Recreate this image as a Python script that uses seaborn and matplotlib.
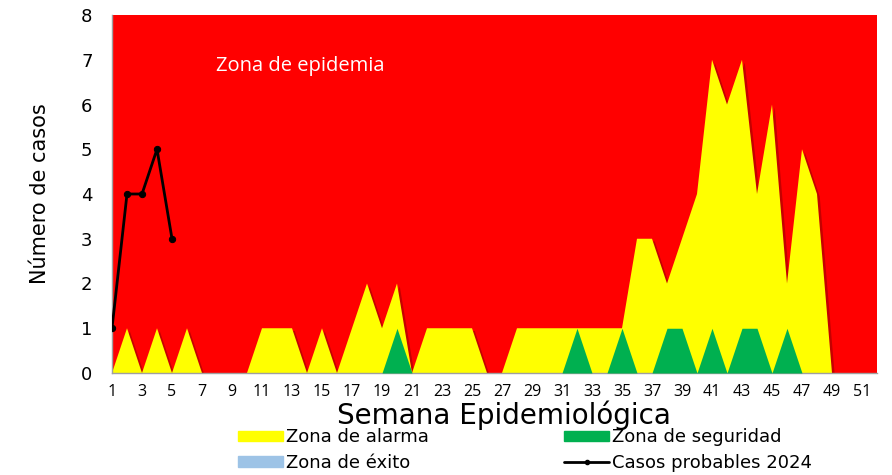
import matplotlib
matplotlib.use("Agg")
import matplotlib.pyplot as plt
import matplotlib.patheffects as pe
from matplotlib.patches import Patch
from matplotlib.lines import Line2D
import seaborn as sns
import pandas as pd

# --- datos ---
semanas = list(range(1, 53))
epidemia = [8] * 52
alarma = [0, 1, 0, 1, 0, 1, 0, 0, 0, 0,
          1, 1, 1, 0, 1, 0, 1, 2, 1, 2,
          0, 1, 1, 1, 1, 0, 0, 1, 1, 1,
          1, 1, 1, 1, 1, 3, 3, 2, 3, 4,
          7, 6, 7, 4, 6, 2, 5, 4, 0, 0, 0, 0]
seguridad = [0, 0, 0, 0, 0, 0, 0, 0, 0, 0,
             0, 0, 0, 0, 0, 0, 0, 0, 0, 1,
             0, 0, 0, 0, 0, 0, 0, 0, 0, 0,
             0, 1, 0, 0, 1, 0, 0, 1, 1, 0,
             1, 0, 1, 1, 0, 1, 0, 0, 0, 0, 0, 0]
exito = [0] * 52
semanas_2024 = [1, 2, 3, 4, 5]
casos_2024 = [1, 4, 4, 5, 3]

df = pd.DataFrame({'semana': semanas, 'epidemia': epidemia, 'alarma': alarma,
                   'seguridad': seguridad, 'exito': exito})
df_2024 = pd.DataFrame({'semana': semanas_2024, 'casos': casos_2024})

# --- estilo ---
sns.set_theme(style="white")
plt.rcParams['font.family'] = ['DejaVu Sans']
plt.rcParams['text.color'] = 'black'
plt.rcParams['axes.labelcolor'] = 'black'

ROJO = '#FF0000'
AMARILLO = '#FFFF00'
VERDE = '#00B050'
AZUL = '#9DC3E6'

fig = plt.figure(figsize=(8.92, 4.75), dpi=100)
ax = fig.add_axes([112 / 892, 1 - 373 / 475, (877 - 112) / 892, (373 - 15) / 475])

sombra = [pe.SimplePatchShadow(offset=(2, -2), shadow_rgbFace='#800000', alpha=0.45), pe.Normal()]
ax.fill_between(df['semana'], 0, df['epidemia'], color=ROJO, lw=0, zorder=1)
ax.fill_between(df['semana'], 0, df['alarma'], color=AMARILLO, lw=0, zorder=2,
                path_effects=sombra)
ax.fill_between(df['semana'], 0, df['seguridad'], color=VERDE, lw=0, zorder=3)
ax.fill_between(df['semana'], 0, df['exito'], color=AZUL, lw=0, zorder=4)

sns.lineplot(data=df_2024, x='semana', y='casos', ax=ax, color='black', lw=2,
             marker='o', markersize=4.5, markeredgecolor='black', zorder=6, legend=False)

ax.text(7.9, 6.85, 'Zona de epidemia', color='white', fontsize=14.5,
        va='center', ha='left', family=['Open Sans', 'DejaVu Sans'])

ax.set_xlim(1, 52)
ax.set_ylim(0, 8)
ax.set_xticks(semanas)
ax.set_xticklabels([str(s) if s % 2 == 1 else '' for s in semanas], fontsize=11.5,
                   family=['Open Sans', 'DejaVu Sans'])
ax.set_yticks(range(0, 9))
ax.set_yticklabels([str(v) for v in range(0, 9)], fontsize=13)
ax.tick_params(axis='both', which='major', direction='out', length=4, width=1,
               color='#A0A0A0', labelcolor='black')
ax.tick_params(axis='y', pad=10)
ax.tick_params(axis='x', pad=4)
for lado in ['top', 'right']:
    ax.spines[lado].set_visible(False)
for lado in ['left', 'bottom']:
    ax.spines[lado].set_color('#A0A0A0')
    ax.spines[lado].set_linewidth(1)

ax.set_xlabel('Semana Epidemiológica', fontsize=20)
ax.xaxis.set_label_coords(0.512, -0.078)
ax.set_ylabel('Número de casos', fontsize=15, labelpad=22,
              family=['Liberation Sans Narrow', 'DejaVu Sans'])

handles = [Patch(color=AMARILLO), Patch(color=AZUL), Patch(color=VERDE),
           Line2D([0], [0], color='black', lw=2, marker='o', markersize=3)]
labels = ['Zona de alarma', 'Zona de éxito', 'Zona de seguridad', 'Casos probables 2024']
fig.legend(handles, labels, ncol=2, loc='center', bbox_to_anchor=(525 / 892, 1 - 450 / 475),
           frameon=False, fontsize=13, handlelength=2.5, handleheight=0.55,
           handletextpad=0.15, columnspacing=7.5, labelspacing=0.4)

fig.savefig('out.png', dpi=100)
